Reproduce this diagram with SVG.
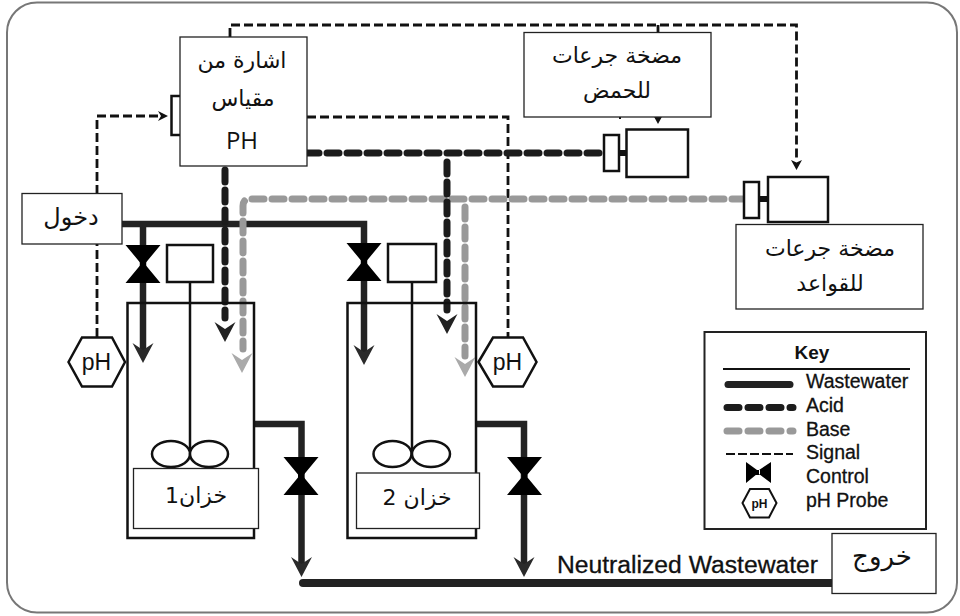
<svg xmlns="http://www.w3.org/2000/svg" xmlns:xlink="http://www.w3.org/1999/xlink" width="960" height="616" viewBox="0 0 960 616">
<style>
.box{fill:#fff;stroke:#222;stroke-width:1.3}
.eq{fill:#fff;stroke:#111;stroke-width:2.5}
.ww{fill:none;stroke:#222;stroke-width:6.5}
.acid{fill:none;stroke:#1c1c1c;stroke-width:7;stroke-dasharray:12 8;stroke-linecap:round}
.base{fill:none;stroke:#999;stroke-width:7;stroke-dasharray:12 8;stroke-linecap:round}
.sig{fill:none;stroke:#111;stroke-width:2.8;stroke-dasharray:9 4}
.ar{font-family:"DejaVu Sans","Noto Sans",sans-serif;font-size:22px;fill:#111;text-anchor:middle;direction:rtl}
.lat{font-family:"Liberation Sans",Arial,sans-serif;fill:#111;stroke:#111;stroke-width:.3}
.ph{font-family:"Liberation Sans",Arial,sans-serif;font-size:23px;fill:#111;text-anchor:middle}
</style>
<defs>
<path id="head" d="M0 0L-10.500 -20L0 -13L10.500 -20Z"/>
<path id="sighead" d="M0 0L-5.500 -10L0 -7.500L5.500 -10Z" fill="#111"/>
<path id="valve" d="M-17.500 -19H17.500L3 -1.500V1.500L17.500 19H-17.500L-3 1.500V-1.500Z" fill="#000"/>
</defs>
<rect id="frame" x="7" y="2.500" width="950" height="610" rx="30" fill="#fff" stroke="#777" stroke-width="2"/>

<g id="connectors">
<path class="sig" d="M97 337V116H163"/>
<path d="M158 111L168 116L158 121L161 116Z" fill="#111"/>
<path class="sig" d="M230 37V25H796.500V160"/>
<use xlink:href="#sighead" x="796.500" y="170"/>
<path class="sig" d="M658 25V33"/>
<use xlink:href="#sighead" x="658" y="124"/>
<path d="M620 117V119" stroke="#111" stroke-width="2"/>
<path class="sig" d="M307 117H508V337"/>

<path class="ww" d="M121 224H364V250"/>
<path class="ww" d="M143 224V350"/>
<use xlink:href="#head" x="143" y="363" fill="#2a2a2a"/>
<path class="ww" d="M364 250V352"/>
<use xlink:href="#head" x="364" y="365" fill="#2a2a2a"/>
<path class="ww" d="M254 424H301.500V565"/>
<use xlink:href="#head" x="301.500" y="577" fill="#2a2a2a"/>
<path class="ww" d="M476 424H524V565"/>
<use xlink:href="#head" x="524" y="577" fill="#2a2a2a"/>
<path d="M303 583H835" fill="none" stroke="#222" stroke-width="8" stroke-linecap="round"/>

<path class="base" d="M744 199H250Q243 199 243 206V349"/>
<use xlink:href="#head" x="242" y="373" fill="#aaa"/>
<path class="base" d="M465 207V356"/>
<use xlink:href="#head" x="465" y="377" fill="#aaa"/>
<path class="acid" d="M307 153H604"/>
<path class="acid" d="M225 170V318"/>
<use xlink:href="#head" x="225" y="342" fill="#222"/>
<path class="acid" d="M447 162V310"/>
<use xlink:href="#head" x="447" y="334" fill="#222"/>
</g>

<g id="tank1">
<rect class="eq" x="127.500" y="303" width="126.500" height="235" style="fill:none"/>
<rect x="167" y="245" width="46" height="37" class="eq"/>
<path d="M190 282V453" stroke="#111" stroke-width="2.500"/>
<ellipse class="eq" cx="171" cy="454" rx="19" ry="13"/>
<ellipse class="eq" cx="209" cy="454" rx="19" ry="13"/>
<rect class="box" x="133.500" y="468.500" width="125" height="60"/>
<text class="ar" x="196" y="503">خزان1</text>
</g>
<g id="tank2">
<rect class="eq" x="347.500" y="303" width="128.500" height="235" style="fill:none"/>
<rect x="388" y="244" width="48" height="38" class="eq"/>
<path d="M412 282V453" stroke="#111" stroke-width="2.500"/>
<ellipse class="eq" cx="392.500" cy="454" rx="19" ry="13"/>
<ellipse class="eq" cx="431" cy="454" rx="19" ry="13"/>
<rect class="box" x="356.500" y="473" width="123" height="55.500"/>
<text class="ar" x="417" y="505">خزان 2</text>
</g>
<g id="valve-in-1"><use xlink:href="#valve" x="143" y="264"/></g>
<g id="valve-in-2"><use xlink:href="#valve" x="364" y="262"/></g>
<g id="valve-out-1"><use xlink:href="#valve" x="301" y="476"/></g>
<g id="valve-out-2"><use xlink:href="#valve" x="524.500" y="476"/></g>

<g id="ph-probe-1">
<path class="eq" d="M68.500 362L82 337.500H112L125 362L112 386.500H82Z"/>
<text class="ph" x="96.500" y="370">pH</text>
</g>
<g id="ph-probe-2">
<path class="eq" d="M478.500 362L493 337.500H523L536.500 362L523 386.500H493Z"/>
<text class="ph" x="507.500" y="370">pH</text>
</g>

<g id="controller">
<rect class="eq" x="171.500" y="96" width="10" height="39"/>
<rect class="box" x="180" y="37" width="127" height="129"/>
<text class="ar" x="242" y="68">اشارة من</text>
<text class="ar" x="243" y="106">مقياس</text>
<text x="242" y="149" font-family="'Open Sans',sans-serif" font-size="24" fill="#111" text-anchor="middle">PH</text>
</g>
<g id="inlet">
<rect class="box" x="22" y="193.500" width="100" height="50.500"/>
<text class="ar" x="71" y="225" style="font-size:24px">دخول</text>
</g>
<g id="acid-pump">
<rect class="box" x="524" y="32.500" width="187" height="84.500"/>
<text class="ar" x="617" y="63">مضخة جرعات</text>
<text class="ar" x="617" y="98">للحمض</text>
<rect class="eq" x="604" y="135" width="15" height="36"/>
<rect x="618" y="150" width="10" height="6" fill="#111"/>
<rect class="eq" x="626.500" y="129.500" width="61.500" height="47.500"/>
</g>
<g id="base-pump">
<rect class="eq" x="744" y="182" width="15" height="36"/>
<rect x="758" y="196" width="10" height="6" fill="#111"/>
<rect class="eq" x="768" y="177" width="60" height="45"/>
<rect class="box" x="736" y="224.500" width="187" height="84.500"/>
<text class="ar" x="830" y="256">مضخة جرعات</text>
<text class="ar" x="830" y="291">للقواعد</text>
</g>
<g id="outlet">
<rect class="box" x="832" y="533.500" width="104" height="60"/>
<text class="ar" x="882" y="565" style="font-size:26px">خروج</text>
</g>
<text class="lat" x="557" y="573" font-size="23" textLength="261" lengthAdjust="spacingAndGlyphs">Neutralized Wastewater</text>

<g id="key">
<rect x="704.500" y="332" width="221.500" height="197" fill="#fff" stroke="#222" stroke-width="2"/>
<text x="812" y="359" font-family="'Liberation Sans',Arial,sans-serif" font-weight="bold" font-size="19" text-anchor="middle" fill="#111">Key</text>
<path d="M723 369H910" stroke="#111" stroke-width="2"/>
<path d="M728 384.500H790" stroke="#222" stroke-width="7" stroke-linecap="round"/>
<path d="M727 407.500H793" stroke="#1c1c1c" stroke-width="7" stroke-linecap="round" stroke-dasharray="12 9" fill="none"/>
<path d="M727 431H793" stroke="#999" stroke-width="7" stroke-linecap="round" stroke-dasharray="12 9" fill="none"/>
<path d="M726 454H793" stroke="#111" stroke-width="2" stroke-dasharray="9 3" fill="none"/>
<path d="M746 462L757 470V474L746 483ZM771 462L759 470V474L771 483Z M756 470H760V475H756Z" fill="#000"/>
<path d="M742.500 503L750 489H769L776.500 503L769 517.500H750Z" fill="#fff" stroke="#111" stroke-width="2"/>
<text x="759.500" y="508" font-family="'Liberation Sans',Arial,sans-serif" font-size="12" font-weight="bold" text-anchor="middle" fill="#111">pH</text>
<g class="lat" font-size="19.500">
<text x="806" y="388">Wastewater</text>
<text x="806" y="412">Acid</text>
<text x="806" y="436">Base</text>
<text x="806" y="459">Signal</text>
<text x="806" y="483">Control</text>
<text x="806" y="507">pH Probe</text>
</g>
</g>
</svg>
